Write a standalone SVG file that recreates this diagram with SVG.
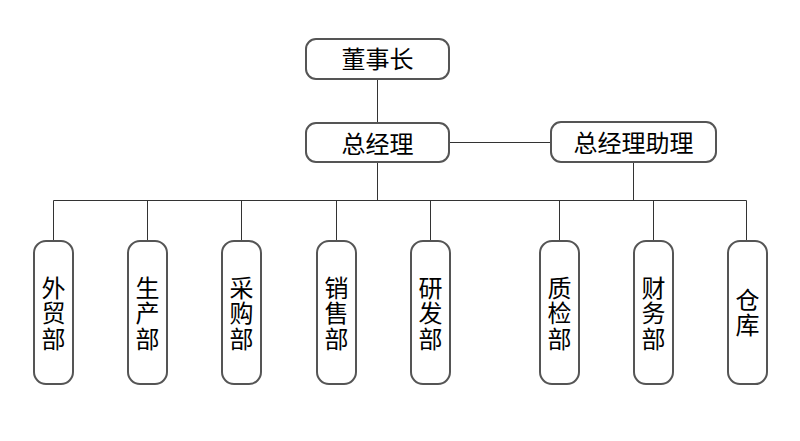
<svg xmlns="http://www.w3.org/2000/svg" width="800" height="441" viewBox="0 0 800 441">
<style>
.box{fill:#fff;stroke:#555;stroke-width:2}
.lbl{font-family:"Noto Sans CJK SC","Noto Sans",sans-serif;font-size:24px;fill:#000;text-anchor:middle}
.v{writing-mode:vertical-rl;letter-spacing:1.5px}
.con{stroke:#333;stroke-width:1;fill:none}
</style>
<rect width="800" height="441" fill="#fff"/>
<g id="connectors">
<path class="con" d="M377.5 79V123M449 142.5H551M377.5 162V200.5M633.5 162V200.5M53.5 241V200.5H746.5V241M147.5 200.5V241M241.5 200.5V241M336.5 200.5V241M430.5 200.5V241M559.5 200.5V241M653.5 200.5V241"/>
</g>
<g id="n-chairman"><rect class="box" x="306" y="39" width="143" height="40" rx="10"/><text class="lbl" x="377.5" y="67.5">董事长</text></g>
<g id="n-gm"><rect class="box" x="306" y="123" width="143" height="39" rx="10"/><text class="lbl" x="377.5" y="153">总经理</text></g>
<g id="n-gma"><rect class="box" x="551" y="122" width="165" height="40" rx="10"/><text class="lbl" x="633.5" y="151.5">总经理助理</text></g>
<g id="n-waimao"><rect class="box" x="34" y="241" width="39" height="143" rx="12"/><text class="lbl v" x="53.5" y="314">外贸部</text></g>
<g id="n-shengchan"><rect class="box" x="128" y="241" width="39" height="143" rx="12"/><text class="lbl v" x="147.5" y="314">生产部</text></g>
<g id="n-caigou"><rect class="box" x="222" y="241" width="39" height="143" rx="12"/><text class="lbl v" x="241.5" y="314">采购部</text></g>
<g id="n-xiaoshou"><rect class="box" x="317" y="241" width="39" height="143" rx="12"/><text class="lbl v" x="336.5" y="314">销售部</text></g>
<g id="n-yanfa"><rect class="box" x="411" y="241" width="39" height="143" rx="12"/><text class="lbl v" x="430.5" y="314">研发部</text></g>
<g id="n-zhijian"><rect class="box" x="540" y="241" width="39" height="143" rx="12"/><text class="lbl v" x="559.5" y="314">质检部</text></g>
<g id="n-caiwu"><rect class="box" x="634" y="241" width="39" height="143" rx="12"/><text class="lbl v" x="653.5" y="314">财务部</text></g>
<g id="n-cangku"><rect class="box" x="728" y="241" width="39" height="143" rx="12"/><text class="lbl v" x="747.5" y="313">仓库</text></g>
</svg>
